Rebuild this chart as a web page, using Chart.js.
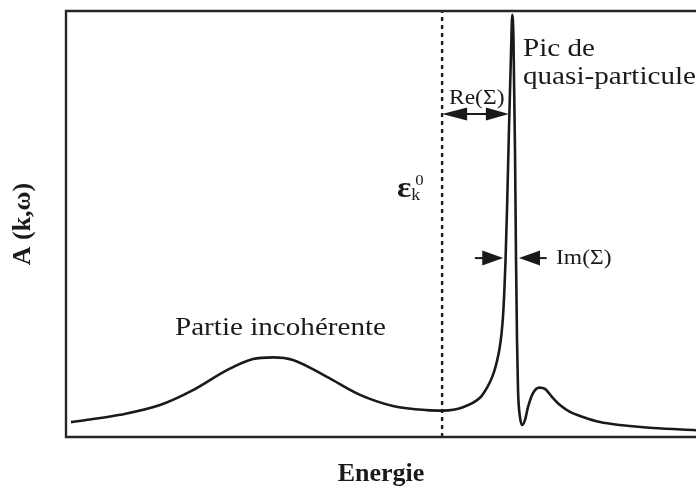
<!DOCTYPE html>
<html><head><meta charset="utf-8">
<script src="https://cdn.jsdelivr.net/npm/chart.js@4"></script>
<style>html,body{margin:0;padding:0;background:#fff;}canvas{display:block;}</style>
</head><body>
<canvas id="c" width="696" height="491"></canvas>
<script>
// ---- data (arbitrary energy units, spectral weight normalised) ----
const energy = [0.079,0.381,0.857,1.492,2.016,2.556,2.968,3.286,3.603,4.143,4.667,5.190,5.730,5.984,6.302,6.571,6.651,6.730,6.794,6.841,6.881,6.913,6.937,6.957,6.976,7.000,7.032,7.063,7.084,7.103,7.127,7.143,7.159,7.175,7.206,7.243,7.286,7.333,7.413,7.513,7.603,7.710,7.841,8.000,8.206,8.476,8.794,9.317,10.0];
const spectral = [0.035,0.041,0.052,0.075,0.110,0.157,0.183,0.187,0.181,0.141,0.099,0.073,0.063,0.062,0.070,0.092,0.108,0.129,0.153,0.178,0.207,0.242,0.284,0.340,0.411,0.533,0.725,0.897,0.991,0.932,0.674,0.420,0.228,0.110,0.047,0.028,0.040,0.070,0.103,0.116,0.113,0.095,0.075,0.059,0.047,0.035,0.028,0.021,0.016];
const eps0 = 5.97;           // bare energy epsilon_k^0
const xRange = [0, 10];
const yRange = [0, 1];
const xTitle = 'Energie';
const yTitle = 'A (k,ω)';
const labelPeak = ['Pic de', 'quasi-particule'];
const labelIncoh = 'Partie incohérente';
const labelRe = 'Re(Σ)';
const labelIm = 'Im(Σ)';

// annotation anchors in data coordinates
const notes = {
  reArrow: {x1: eps0, x2: 7.03, y: 0.758},
  imLeft: {from: 6.49, to: 6.94, y: 0.420},
  imRight: {from: 7.63, to: 7.19, y: 0.420},
  peak: {x: 7.254, y1: 0.894, y2: 0.829},
  re: {x: 6.079, y: 0.782},
  im: {x: 7.778, y: 0.406},
  eps: {x: 5.254, y: 0.563},
  incoh: {x: 1.730, y: 0.239}
};

const curve = energy.map((e, i) => ({x: e, y: spectral[i]}));
const epsLine = [{x: eps0, y: yRange[0]}, {x: eps0, y: yRange[1]}];

const INK = '#1a1a1a';
const SERIF = '"Liberation Serif", "Times New Roman", serif';
const STRETCH = 1.12;

function text(ctx, str, x, y, font, align) {
  ctx.save();
  ctx.font = font;
  ctx.fillStyle = INK;
  ctx.textBaseline = 'alphabetic';
  ctx.textAlign = 'left';
  ctx.translate(x, y);
  ctx.scale(STRETCH, 1);
  const w = ctx.measureText(str).width;
  const dx = align === 'center' ? -w / 2 : 0;
  ctx.fillText(str, dx, 0);
  ctx.restore();
  return w * STRETCH;
}
function head(ctx, tipX, y, dir, len, h) {
  ctx.beginPath();
  ctx.moveTo(tipX, y);
  ctx.lineTo(tipX - dir * len, y - h / 2);
  ctx.lineTo(tipX - dir * len, y + h / 2);
  ctx.closePath();
  ctx.fill();
}

const annot = {
  id: 'annot',
  afterDatasetsDraw(chart) {
    const {ctx, chartArea: a, scales: {x, y}} = chart;
    ctx.save();
    // frame (top, left, bottom)
    ctx.strokeStyle = '#262626';
    ctx.lineWidth = 2.4;
    ctx.beginPath();
    ctx.moveTo(a.right, a.top); ctx.lineTo(a.left, a.top);
    ctx.lineTo(a.left, a.bottom); ctx.lineTo(a.right, a.bottom);
    ctx.stroke();

    ctx.fillStyle = INK; ctx.strokeStyle = INK; ctx.lineWidth = 2;
    // Re arrow (double)
    const r = notes.reArrow, ry = y.getPixelForValue(r.y);
    const rx1 = x.getPixelForValue(r.x1), rx2 = x.getPixelForValue(r.x2);
    ctx.beginPath(); ctx.moveTo(rx1 + 10, ry); ctx.lineTo(rx2 - 10, ry); ctx.stroke();
    head(ctx, rx1, ry, -1, 25, 13);
    head(ctx, rx2, ry, 1, 23, 13);
    // Im arrows
    [notes.imLeft, notes.imRight].forEach(n => {
      const fx = x.getPixelForValue(n.from), tx = x.getPixelForValue(n.to), py = y.getPixelForValue(n.y);
      const dir = tx > fx ? 1 : -1;
      ctx.beginPath(); ctx.moveTo(fx, py); ctx.lineTo(tx - dir * 10, py); ctx.stroke();
      head(ctx, tx, py, dir, 21, 15);
    });

    // labels
    text(ctx, labelPeak[0], x.getPixelForValue(notes.peak.x), y.getPixelForValue(notes.peak.y1), '26px ' + SERIF);
    text(ctx, labelPeak[1], x.getPixelForValue(notes.peak.x), y.getPixelForValue(notes.peak.y2), '26px ' + SERIF);
    text(ctx, labelRe, x.getPixelForValue(notes.re.x), y.getPixelForValue(notes.re.y), '21px ' + SERIF);
    text(ctx, labelIm, x.getPixelForValue(notes.im.x), y.getPixelForValue(notes.im.y), '21px ' + SERIF);
    text(ctx, labelIncoh, x.getPixelForValue(notes.incoh.x), y.getPixelForValue(notes.incoh.y), '26px ' + SERIF);
    // epsilon_k^0
    const ex = x.getPixelForValue(notes.eps.x), ey = y.getPixelForValue(notes.eps.y);
    const w = text(ctx, 'ε', ex, ey, 'bold 30px ' + SERIF);
    text(ctx, 'k', ex + w, ey + 3, '16px ' + SERIF);
    text(ctx, '0', ex + w + 4, ey - 12, '15px ' + SERIF);
    ctx.restore();
  }
};

new Chart(document.getElementById('c'), {
  type: 'line',
  data: {
    datasets: [
      {data: curve, borderColor: INK, borderWidth: 2.6, pointRadius: 0, cubicInterpolationMode: 'monotone', fill: false},
      {data: epsLine, borderColor: INK, borderWidth: 2.4, borderDash: [4, 4], pointRadius: 0, fill: false}
    ]
  },
  options: {
    responsive: false,
    animation: false,
    devicePixelRatio: 1,
    layout: {padding: {top: 11, right: 0, left: 0, bottom: 0}},
    plugins: {legend: {display: false}, tooltip: {enabled: false}},
    scales: {
      x: {
        type: 'linear', min: xRange[0], max: xRange[1],
        grid: {display: false}, border: {display: false}, ticks: {display: false},
        title: {display: true, text: xTitle, color: INK, font: {family: SERIF, size: 26, weight: 'bold'}, padding: {top: 0, bottom: 1}},
        afterFit(s) { s.height = 54; }
      },
      y: {
        type: 'linear', min: yRange[0], max: yRange[1],
        grid: {display: false}, border: {display: false}, ticks: {display: false},
        title: {display: true, text: yTitle, color: INK, font: {family: SERIF, size: 26, weight: 'bold'}, padding: {top: 8, bottom: 0}},
        afterFit(s) { s.width = 66; }
      }
    }
  },
  plugins: [annot]
});
</script>
</body></html>
